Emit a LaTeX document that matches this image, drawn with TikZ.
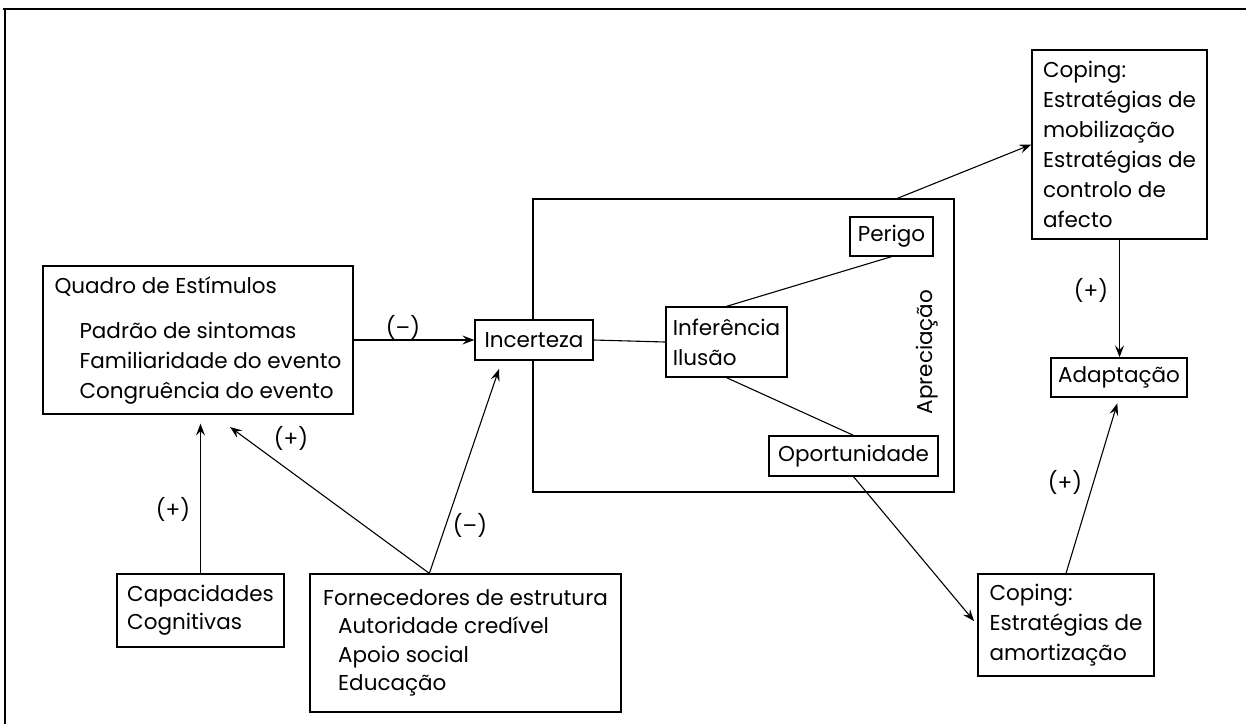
\documentclass[tikz,border=0pt]{standalone}
\usepackage{fontspec}
\setmainfont{Poppins}
\usetikzlibrary{arrows.meta,calc}
\begin{document}
\begin{tikzpicture}[x=1pt,y=-1pt,
  txt/.style={font=\fontsize{21.5}{30}\selectfont},
  box/.style={draw, line width=1.3pt, inner sep=0pt, align=left, txt},
  cbox/.style={box, align=center},
  link/.style={line width=1.1pt},
  arr/.style={link, -{Stealth[length=12pt,width=9pt,inset=4.5pt]}},
  sign/.style={txt, inner sep=0pt}
]
\useasboundingbox (0,0) rectangle (1246,724);
% page frame: top and left rules
\draw[line width=2pt] (3,9) -- (1246,9);
\draw[line width=2pt] (5,9) -- (5,724);

% appraisal frame
\node[draw, line width=1.3pt, minimum width=421pt, minimum height=293pt, inner sep=0pt] (apr) at (743.5,345.5) {};
\node[txt, rotate=90, inner sep=0pt] (aprlabel) at (927,352) {Apreciação};

% boxes
\node[box, minimum width=310pt, minimum height=148pt] (quadro) at (198,340)
  {Quadro de Estímulos\\[15pt]\hspace*{25pt}Padrão de sintomas\\\hspace*{25pt}Familiaridade do evento\\\hspace*{25pt}Congruência do evento};
\node[cbox, fill=white, minimum width=118pt, minimum height=40pt] (incerteza) at (534,340) {Incerteza};
\node[cbox, minimum width=83pt, minimum height=39pt] (perigo) at (891.5,236.5) {Perigo};
\node[box, minimum width=121pt, minimum height=70pt] (inferencia) at (726.5,342) {Inferência\\Ilusão};
\node[cbox, minimum width=169pt, minimum height=40pt] (oportunidade) at (853.5,456) {Oportunidade};
\node[box, minimum width=175pt, minimum height=189pt] (coping1) at (1119.5,144.5)
  {Coping:\\Estratégias de\\mobilização\\Estratégias de\\controlo de\\afecto};
\node[cbox, minimum width=136pt, minimum height=39pt] (adaptacao) at (1119,377.5) {Adaptação};
\node[box, minimum width=176pt, minimum height=102pt] (coping2) at (1066,625)
  {Coping:\\Estratégias de\\amortização};
\node[box, minimum width=167pt, minimum height=73pt, font=\fontsize{21.5}{28}\selectfont] (capacidades) at (200.5,610.5)
  {Capacidades\\Cognitivas};
\node[box, minimum width=311pt, minimum height=138pt, font=\fontsize{21.5}{28.5}\selectfont] (fornecedores) at (465.5,643)
  {Fornecedores de estrutura\\\hspace*{15pt}Autoridade credível\\\hspace*{15pt}Apoio social\\\hspace*{15pt}Educação};

% connection points
\coordinate (fo) at ($(fornecedores.north west)+(120,0)$);
\coordinate (qtip) at (230,427);
\coordinate (itip) at (499,369);
\coordinate (aprtop) at ($(apr.north west)+(365,0)$);

% connectors
\draw[arr] (quadro.east) -- (incerteza.west);
\node[sign] (s1) at (403,327) {(–)};
\draw[arr, shorten >=9pt] (capacidades.north) -- (capacidades.north |- quadro.south);
\node[sign] (s2) at (173,509) {(+)};
\draw[arr] (fo) -- (qtip);
\node[sign] (s3) at (291,438) {(+)};
\draw[arr] (fo) -- (itip);
\node[sign] (s4) at (470,525) {(–)};
\draw[link] (incerteza.east) -- (inferencia.west);
\draw[link] (inferencia.north) -- (perigo.south);
\draw[link] (inferencia.south) -- (oportunidade.north);
\draw[arr, shorten >=5pt] (oportunidade.south) -- (coping2.west);
\draw[arr] (aprtop) -- (coping1.west);
\draw[arr] (coping1.south) -- (coping1.south |- adaptacao.north);
\node[sign] (s5) at (1091,290) {(+)};
\draw[arr, shorten >=6pt] (coping2.north) -- (adaptacao.south);
\node[sign] (s6) at (1065,482) {(+)};
\end{tikzpicture}
\end{document}
